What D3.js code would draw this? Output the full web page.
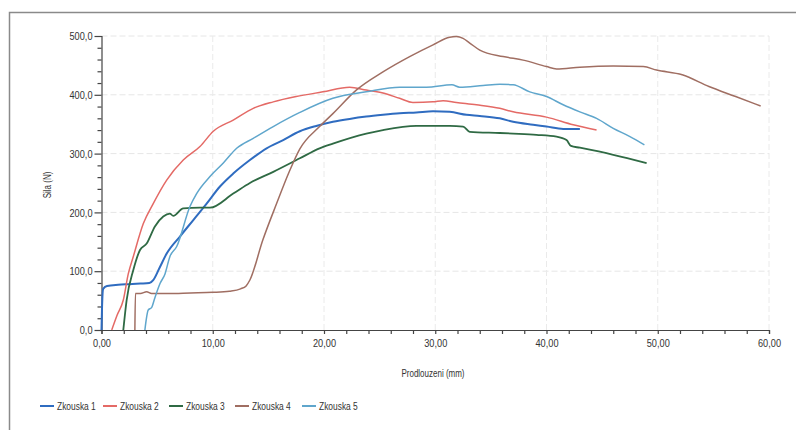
<!DOCTYPE html>
<html><head><meta charset="utf-8">
<script src="https://cdn.jsdelivr.net/npm/d3@7"></script>
<style>
html,body{margin:0;padding:0;background:#fff;}
svg text{font-family:"Liberation Sans",Arial,sans-serif;fill:#333;}
</style></head>
<body><svg id="c" width="796" height="430"></svg>
<script>
const seriesNames = ["Zkouska 1","Zkouska 2","Zkouska 3","Zkouska 4","Zkouska 5"];
const seriesColors = ["#2f6cc0","#e46a66","#2f6a44","#a06e62","#5fa6cc"];

const z1x = [0,0.05,0.15,0.5,1.5,2.5,3.5,4.3,4.65,5.2,5.86,7.05,8.25,9.45,10.65,11.84,13.34,14.84,16.33,17.83,19.3,20.8,22.3,23.8,25.3,26.8,28.3,29.8,31.3,32.8,34,35.8,37,38.8,40,41.5,43];
const z1y = [0,40,70,75,77,78,79,80,85,105,130,159,187,215,244,266,289,309,323,338,347,354,359,363,366,368.5,370,372,371,366,364,360,354,349,346,342,342];

const z2x = [0.92,1.4,1.96,2.4,2.86,3.76,4.65,5.86,7.35,8.85,10.05,11.84,13.64,15.44,17.5,19.9,22.3,23.8,25.3,26.8,28,29.8,30.7,31.9,33.7,35.8,37,40,42.4,44.5];
const z2y = [0,25,51,95,125,181,215,255,289,312,338,357,377,388,397,405,413,408,403,394,387,388,390,387,383,377,371,362,349,340];

const z3x = [1.96,2.26,2.86,3.46,4.06,4.8,5.55,6.15,6.45,7.35,8.85,9.75,11.84,13.34,15.44,17.83,19.6,20.8,23.8,25.3,28.3,31.3,32.5,33.1,35.8,37,39.1,40.9,41.8,42.2,43,46,49];
const z3y = [0,51,102,136,147,176,193,198,194,207,208,208,232,250,269,292,309,317,334,340,347,347,346,337,335,334,332,329,323,313,310,298,284];

const z4x = [3.0,3.05,3.5,4.06,4.5,6,8,10,11.5,12.5,13,13.34,14.5,15.74,16.94,17.83,19.6,20.8,22.9,25.3,27.7,29.8,31.3,31.9,32.5,33.1,34,36.1,37.9,40,40.9,43,46,48.7,49.9,52.2,54.6,57,59.25];
const z4y = [0,62,62,65,62,62,63,64,66,70,75,85,153,215,272,308,346,368,408,439,465,485,498,499,496,488,476,465,459,448,444,447,449,448,442,434,414,397,381];

const z5x = [3.9,4.2,4.5,4.8,5.26,5.7,6.15,6.76,7.95,8.55,9.75,10.95,12.15,13.64,15.44,17.83,20.8,23.8,26.8,29.2,31.5,32.2,34.3,35.8,37,38.5,40,41.5,43,44.5,46,47.5,48.8];
const z5y = [0,34,38,55,79,95,125,142,210,232,261,284,309,326,346,370,394,405,413,413,417,413,416,418,417,405,397,383,371,360,343,329,315];

const xTicks = [0,10,20,30,40,50,60];
const yTicks = [0,100,200,300,400,500];
const xTitle = "Prodlouzeni (mm)";
const yTitle = "Sila (N)";

const seriesX = [z1x,z2x,z3x,z4x,z5x];
const seriesY = [z1y,z2y,z3y,z4y,z5y];
const widths = [2,1.5,1.8,1.5,1.5];

const svg = d3.select("#c");
const L = 101.5, R = 769, T = 36, B = 330;
const x = d3.scaleLinear().domain([0,60]).range([L,R]);
const y = d3.scaleLinear().domain([0,500]).range([B,T]);

// outer frame
svg.append("rect").attr("x",9.5).attr("y",12.5).attr("width",800).attr("height",430)
  .attr("fill","none").attr("stroke","#8a8a8a").attr("stroke-width",1.5);

// grid
const g = svg.append("g");
g.selectAll("line.hg").data(yTicks.filter(d=>d>0)).join("line")
  .attr("x1",L).attr("x2",R).attr("y1",d=>y(d)).attr("y2",d=>y(d))
  .attr("stroke","#e6e6e6").attr("stroke-dasharray","6,3");
g.selectAll("line.vg").data(xTicks.filter(d=>d>0)).join("line")
  .attr("y1",T).attr("y2",B).attr("x1",d=>x(d)).attr("x2",d=>x(d))
  .attr("stroke","#eaeaea").attr("stroke-dasharray","6,3");

// axes
const fmtX = d => d3.format(".2f")(d).replace(".",",");
const fmtY = d => d3.format(".1f")(d).replace(".",",");
const xAx = svg.append("g").attr("transform",`translate(0,${B})`)
  .call(d3.axisBottom(x).tickValues(d3.range(0,61,2)).tickSize(4).tickFormat(d=> d%10===0 ? fmtX(d) : ""));
const yAx = svg.append("g").attr("transform",`translate(${L},0)`)
  .call(d3.axisLeft(y).tickValues(d3.range(0,501,20)).tickSize(4).tickFormat(d=> d%100===0 ? fmtY(d) : ""));
[xAx,yAx].forEach(a=>{
  a.select(".domain").attr("stroke","#444").attr("stroke-width",1.2);
  a.selectAll(".tick line").attr("stroke","#444").attr("stroke-width",1.2);
  a.selectAll("text").attr("font-size",11.5).attr("fill","#333")
   .style("font-family",'"Liberation Sans",Arial,sans-serif');
});
yAx.selectAll(".tick").filter(d=>d%100===0).select("line").attr("x2",-7);
yAx.selectAll(".tick text").attr("x",-9);
xAx.selectAll(".tick text").attr("y",9);

// titles
svg.append("text").attr("x",433).attr("y",377).attr("text-anchor","middle")
  .attr("font-size",10).text(xTitle);
svg.append("text").attr("transform","translate(51,185) rotate(-90)").attr("text-anchor","middle")
  .attr("font-size",10).text(yTitle);

// lines
const line = d3.line().x(d=>x(d[0])).y(d=>y(d[1])).curve(d3.curveMonotoneX);
seriesX.forEach((xs,i)=>{
  const pts = xs.map((v,j)=>[v,seriesY[i][j]]);
  svg.append("path").datum(pts).attr("d",line).attr("fill","none")
    .attr("stroke",seriesColors[i]).attr("stroke-width",widths[i]).attr("stroke-linejoin","round");
});

// legend
const legX = [40,103,169,235,302];
const leg = svg.append("g");
seriesNames.forEach((n,i)=>{
  leg.append("line").attr("x1",legX[i]).attr("x2",legX[i]+14).attr("y1",406).attr("y2",406)
    .attr("stroke",seriesColors[i]).attr("stroke-width",2);
  leg.append("text").attr("x",legX[i]+17).attr("y",409.5).attr("font-size",10.5).text(n);
});

// condense all text horizontally (narrow font look)
svg.selectAll("text").filter(function(){ return this.textContent.length>0; }).each(function(){
  const w = this.getComputedTextLength();
  d3.select(this).attr("textLength", (w*0.8).toFixed(1)).attr("lengthAdjust","spacingAndGlyphs");
});
</script></body></html>
